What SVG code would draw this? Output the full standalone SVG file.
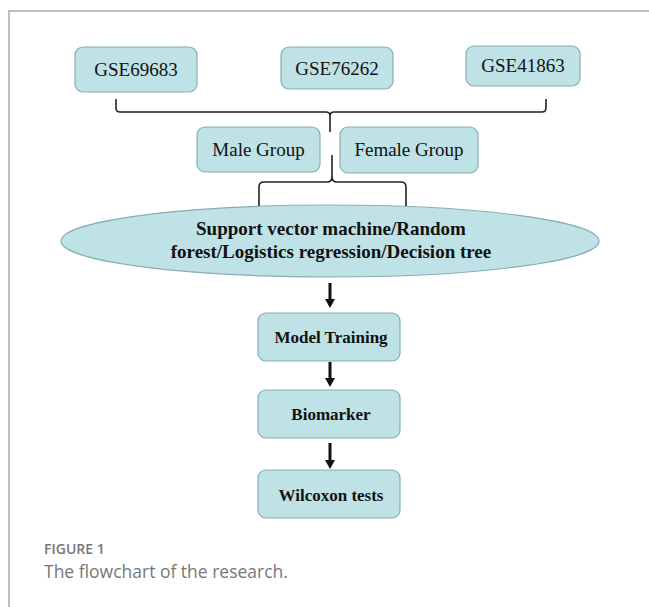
<svg xmlns="http://www.w3.org/2000/svg" width="649" height="607" viewBox="0 0 649 607">
<defs>
<style>
.box{fill:#bfe2e6;stroke:#86aeb2;stroke-width:1.2}
.t{font-family:"Liberation Serif","Times New Roman",serif;font-size:19px;fill:#111;text-anchor:middle}
.b{font-family:"Liberation Serif","Times New Roman",serif;font-weight:bold;fill:#111;text-anchor:middle}
.br{fill:none;stroke:#222;stroke-width:1.6}
.ar{stroke:#111;stroke-width:3}
.ah{fill:#111}
.cap{font-family:"Open Sans","Noto Sans",sans-serif;fill:#777}
</style>
</defs>
<rect width="649" height="607" fill="#fff"/>
<path d="M9,607 L9,11 L649,11" fill="none" stroke="#aaa" stroke-width="1.5"/>

<g id="gse69683"><rect class="box" x="75" y="47" width="122" height="45" rx="8"/><text class="t" x="136" y="76">GSE69683</text></g>
<g id="gse76262"><rect class="box" x="281" y="47" width="112" height="42" rx="8"/><text class="t" x="337" y="75">GSE76262</text></g>
<g id="gse41863"><rect class="box" x="466" y="46" width="114" height="40" rx="8"/><text class="t" x="523" y="72">GSE41863</text></g>
<g id="male"><rect class="box" x="197" y="127" width="123" height="45" rx="8"/><text class="t" x="258.5" y="156">Male Group</text></g>
<g id="female"><rect class="box" x="340" y="127" width="138" height="46" rx="8"/><text class="t" x="409" y="156">Female Group</text></g>
<g id="methods"><ellipse cx="330" cy="241" rx="269" ry="36" fill="#bfe2e6" stroke="#86aeb2" stroke-width="1.2"/>
<text class="b" font-size="19" x="331" y="235">Support vector machine/Random</text>
<text class="b" font-size="19" x="331" y="258">forest/Logistics regression/Decision tree</text></g>
<g id="training"><rect class="box" x="258" y="313" width="142" height="48" rx="8"/><text class="b" font-size="17" x="331" y="343">Model Training</text></g>
<g id="biomarker"><rect class="box" x="258" y="390" width="142" height="48" rx="8"/><text class="b" font-size="17" x="331" y="420">Biomarker</text></g>
<g id="wilcoxon"><rect class="box" x="258" y="470" width="142" height="48" rx="8"/><text class="b" font-size="17" x="331" y="501">Wilcoxon tests</text></g>

<g id="connectors">
<path class="br" d="M116,99 L116,108 Q116,112 120,112 L326,112 Q330,112 330,116 Q330,112 334,112 L542,112 Q546,112 546,108 L546,99 M330,114 L330,132"/>
<path class="br" d="M332,155 L332,177 Q332,182 327,182 L264,182 Q259,182 259,187 L259,206 M332,177 Q332,182 337,182 L401,182 Q406,182 406,187 L406,206"/>
<line class="ar" x1="330" y1="283" x2="330" y2="300"/>
<polygon class="ah" points="325,299 335,299 330,308"/>
<line class="ar" x1="330" y1="362" x2="330" y2="379"/>
<polygon class="ah" points="325,378 335,378 330,387"/>
<line class="ar" x1="330" y1="443" x2="330" y2="461"/>
<polygon class="ah" points="325,460 335,460 330,469"/>
</g>

<text class="cap" x="44" y="554" font-size="14" font-weight="600">FIGURE 1</text>
<text class="cap" x="44" y="578" font-size="17.5">The flowchart of the research.</text>
</svg>
